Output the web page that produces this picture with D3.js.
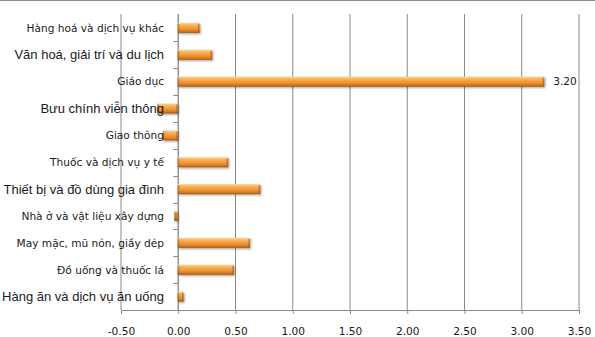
<!DOCTYPE html>
<html><head><meta charset="utf-8">
<script src="https://cdn.jsdelivr.net/npm/d3@7"></script>
<style>html,body{margin:0;padding:0;background:#fff;}svg{display:block;}</style>
</head><body>
<svg id="c" width="595" height="337"></svg>
<script>
const categories = [
  "Hàng hoá và dịch vụ khác",
  "Văn hoá, giải trí và du lịch",
  "Giáo dục",
  "Bưu chính viễn thông",
  "Giao thông",
  "Thuốc và dịch vụ y tế",
  "Thiết bị và đồ dùng gia đình",
  "Nhà ở và vật liệu xây dựng",
  "May mặc, mũ nón, giầy dép",
  "Đồ uống và thuốc lá",
  "Hàng ăn và dịch vụ ăn uống"
];
const values = [0.19, 0.30, 3.20, -0.18, -0.13, 0.44, 0.72, -0.03, 0.63, 0.49, 0.05];
const largeLabel = [false, true, false, true, false, false, true, false, false, false, true];
const tickValues = [-0.5, 0, 0.5, 1, 1.5, 2, 2.5, 3, 3.5];
const labelledIndex = 2;

const fmt = v => d3.format(".2f")(v).replace("\u2212", "-");

const svg = d3.select("#c");
const x = d3.scaleLinear().domain([-0.5, 3.5]).range([120.5, 578.5]);
const y = d3.scaleBand().domain(categories).range([14.4, 310]).paddingInner(0.63).paddingOuter(0.315);
const band = d3.scaleBand().domain(categories).range([14.4, 310]);

// top border
svg.append("line").attr("x1",0).attr("x2",595).attr("y1",0.5).attr("y2",0.5)
  .attr("stroke","#8c8c8c").attr("stroke-width",1.2);

const defs = svg.append("defs");
const g = defs.append("linearGradient").attr("id","bar").attr("x1",0).attr("x2",0).attr("y1",0).attr("y2",1);
g.append("stop").attr("offset",0).attr("stop-color","#fbd7a0");
g.append("stop").attr("offset",0.25).attr("stop-color","#f7b15a");
g.append("stop").attr("offset",0.6).attr("stop-color","#ee9532");
g.append("stop").attr("offset",0.85).attr("stop-color","#d8781c");
g.append("stop").attr("offset",1).attr("stop-color","#9c520f");
const f = defs.append("filter").attr("id","sh").attr("x","-20%").attr("y","-50%").attr("width","140%").attr("height","200%");
f.append("feGaussianBlur").attr("stdDeviation",0.8);

// gridlines
svg.append("g").selectAll("line").data(tickValues).join("line")
  .attr("x1", d=>x(d)+0.5).attr("x2", d=>x(d)+0.5)
  .attr("y1", 14).attr("y2", 310)
  .attr("stroke", "#8a8a8a").attr("stroke-width", 1);

// x axis
const xAxis = d3.axisBottom(x).tickValues(tickValues).tickFormat(fmt).tickSizeInner(4).tickSizeOuter(0).tickPadding(13);
const xa = svg.append("g").attr("transform","translate(0.5,310)").call(xAxis);
xa.select(".domain").attr("stroke","#8a8a8a").attr("d","M"+x(-0.5)+",0.5H"+x(3.5));
xa.selectAll(".tick line").attr("stroke","#8a8a8a");
xa.selectAll("text").attr("font-family","DejaVu Sans").attr("font-size","10.6px").attr("fill","#1a1a1a");

// category axis at x=0
svg.append("line").attr("x1",x(0)+0.5).attr("x2",x(0)+0.5).attr("y1",14).attr("y2",310).attr("stroke","#8a8a8a");
svg.append("g").selectAll("line").data(categories.slice(1)).join("line")
  .attr("x1", x(0)-4.5).attr("x2", x(0)+0.5)
  .attr("y1", d=>Math.round(band(d))+0.5).attr("y2", d=>Math.round(band(d))+0.5)
  .attr("stroke","#8a8a8a");

// bars
const bars = svg.append("g");
const data = categories.map((c,i)=>({c, v: values[i], i}));
bars.selectAll("rect.s").data(data).join("rect").attr("class","s")
  .attr("x", d=>Math.min(x(0), x(d.v))+1.2)
  .attr("y", d=>y(d.c)+1.3)
  .attr("width", d=>Math.abs(x(d.v)-x(0)))
  .attr("height", y.bandwidth())
  .attr("fill","#3a2a1a").attr("opacity",0.45).attr("filter","url(#sh)");
bars.selectAll("rect.b").data(data).join("rect").attr("class","b")
  .attr("x", d=>Math.min(x(0), x(d.v)))
  .attr("y", d=>y(d.c))
  .attr("width", d=>Math.abs(x(d.v)-x(0)))
  .attr("height", y.bandwidth())
  .attr("fill","url(#bar)");
// bevel ends
bars.selectAll("rect.e1").data(data).join("rect").attr("class","e1")
  .attr("x", d=>Math.min(x(0), x(d.v)))
  .attr("y", d=>y(d.c)+1)
  .attr("width", 1.5).attr("height", y.bandwidth()-1)
  .attr("fill","#a0540f").attr("opacity",0.55);
bars.selectAll("rect.e2").data(data).join("rect").attr("class","e2")
  .attr("x", d=>Math.max(x(0), x(d.v))-1.5)
  .attr("y", d=>y(d.c)+1)
  .attr("width", 1.5).attr("height", y.bandwidth()-1)
  .attr("fill","#a0540f").attr("opacity",0.55);

// category labels
svg.append("g").selectAll("text").data(data).join("text")
  .attr("x", 164).attr("y", d=>band(d.c)+band.bandwidth()/2)
  .attr("dy","0.36em").attr("text-anchor","end")
  .attr("font-family", d=>largeLabel[d.i] ? "Liberation Sans" : "DejaVu Sans")
  .attr("font-size", d=>largeLabel[d.i] ? "13px" : "10.6px")
  .attr("fill","#1a1a1a")
  .text(d=>d.c);

// data label
const ld = data[labelledIndex];
svg.append("text").attr("x", x(ld.v)+9).attr("y", y(ld.c)+y.bandwidth()/2).attr("dy","0.36em")
  .attr("font-family","DejaVu Sans").attr("font-size","10.6px").attr("fill","#1a1a1a")
  .text(fmt(ld.v));
</script>
</body></html>
